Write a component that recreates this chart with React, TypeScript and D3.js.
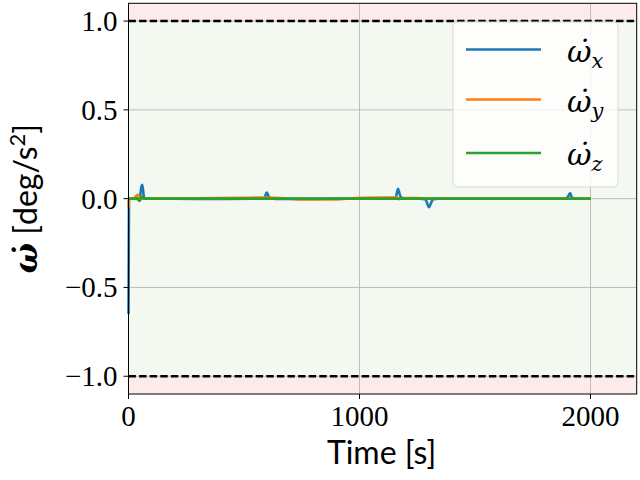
import React from "react";
import * as d3 from "d3";

const xTicks = [0, 1000, 2000];
const yTicks = [-1.0, -0.5, 0.0, 0.5, 1.0];
const xTickLabels = ["0", "1000", "2000"];
const yTickLabels = ["\u22121.0", "\u22120.5", "0.0", "0.5", "1.0"];

const blueT = [0, 2, 6, 30, 46, 52, 56, 59, 62, 66, 72, 90, 200, 400, 580, 590, 595, 599, 604, 612, 640, 800, 1000, 1150, 1158, 1163, 1167, 1171, 1178, 1190, 1260, 1285, 1294, 1301, 1308, 1318, 1340, 1600, 1890, 1902, 1908, 1912, 1917, 1925, 1940, 2000];
const blueV = [-0.65, -0.01, 0, 0, 0.003, 0.03, 0.068, 0.078, 0.06, 0.015, 0, 0, 0, -0.002, 0, 0.006, 0.028, 0.035, 0.02, 0.003, -0.002, -0.001, 0, 0, 0.01, 0.04, 0.055, 0.04, 0.01, 0.002, 0, -0.004, -0.03, -0.048, -0.03, -0.004, 0, 0, 0, 0.01, 0.025, 0.03, 0.015, 0.002, 0, 0];

const orangeT = [0, 2, 6, 25, 33, 40, 46, 52, 60, 100, 300, 500, 600, 680, 760, 900, 980, 1100, 1160, 1172, 1190, 1250, 1300, 1500, 2000];
const orangeV = [-0.05, -0.008, 0, 0.004, 0.015, 0.022, 0.012, 0.002, 0, 0, 0.002, 0.005, 0.006, 0.001, -0.005, -0.004, 0.003, 0.006, 0.007, -0.003, 0.004, 0.004, 0, 0, 0];

const greenT = [0, 30, 40, 46, 50, 54, 58, 62, 70, 600, 1200, 2000];
const greenV = [0, 0, -0.002, -0.012, -0.01, 0.006, 0.012, 0.002, 0, 0, 0, 0];

const seriesNames = ["x", "y", "z"];
const seriesColors = ["#1f77b4", "#ff7f0e", "#2ca02c"];

export default function App() {
  const W = 640, H = 480;
  const x = d3.scaleLinear().domain([0, 2200]).range([128.5, 636.7]);
  const y = d3.scaleLinear().domain([-1.1, 1.1]).range([394, 3.3]);
  const line = d3
    .line<[number, number]>()
    .x((d) => x(d[0]))
    .y((d) => y(d[1]))
    .curve(d3.curveMonotoneX);
  const series = [
    d3.zip(blueT, blueV) as [number, number][],
    d3.zip(orangeT, orangeV) as [number, number][],
    d3.zip(greenT, greenV) as [number, number][],
  ];
  const [x0, x1] = x.range();
  const [yb, yt] = y.range();
  const serif = "'Liberation Serif', 'DejaVu Serif', serif";
  const legendY = [49.5, 99.5, 153];
  return (
    <svg width={W} height={H} style={{ position: "absolute", left: 0, top: 0 }} xmlns="http://www.w3.org/2000/svg">
      <rect x={0} y={0} width={W} height={H} fill="white" />
      {/* shaded regions */}
      <rect x={x0} y={yt} width={x1 - x0} height={y(1) - yt} fill="#fdebeb" />
      <rect x={x0} y={y(-1)} width={x1 - x0} height={yb - y(-1)} fill="#fdebeb" />
      <rect x={x0} y={y(1)} width={x1 - x0} height={y(-1) - y(1)} fill="#f3f8f0" />
      {/* grid */}
      {xTicks.map((t) => (
        <line key={"gx" + t} x1={x(t)} x2={x(t)} y1={yt} y2={yb} stroke="#b0b0b0" strokeWidth={0.8} />
      ))}
      {yTicks.map((t) => (
        <line key={"gy" + t} x1={x0} x2={x1} y1={y(t)} y2={y(t)} stroke="#b0b0b0" strokeWidth={0.8} />
      ))}
      {/* limits */}
      {[1, -1].map((v) => (
        <line key={"lim" + v} x1={x0} x2={x1} y1={y(v)} y2={y(v)} stroke="black" strokeWidth={2.5} strokeDasharray="7.4 3.2" />
      ))}
      {/* data */}
      {series.map((s, i) => (
        <path key={"s" + i} d={line(s) || ""} fill="none" stroke={seriesColors[i]} strokeWidth={2.6} strokeLinejoin="round" />
      ))}
      {/* spines */}
      <rect x={x0} y={yt} width={x1 - x0} height={yb - yt} fill="none" stroke="black" strokeWidth={1} />
      {/* x ticks */}
      {xTicks.map((t, i) => (
        <g key={"xt" + t}>
          <line x1={x(t)} x2={x(t)} y1={yb} y2={yb + 5} stroke="black" strokeWidth={1} />
          <text x={x(t)} y={yb + 32} textAnchor="middle" fontFamily={serif} fontSize={29}>
            {xTickLabels[i]}
          </text>
        </g>
      ))}
      {/* y ticks */}
      {yTicks.map((t, i) => (
        <g key={"yt" + t}>
          <line x1={x0 - 5} x2={x0} y1={y(t)} y2={y(t)} stroke="black" strokeWidth={1} />
          <text x={x0 - 11} y={y(t) + 10} textAnchor="end" fontFamily={serif} fontSize={29}>
            {yTickLabels[i]}
          </text>
        </g>
      ))}
      {/* axis labels */}
      <text x={(x0 + x1) / 2 - 1} y={464} textAnchor="middle" fontFamily="Lato, 'DejaVu Sans', sans-serif" fontSize={32}>
        Time [s]
      </text>
      <g transform={`translate(37, ${(yt + yb) / 2}) rotate(-90)`}>
        <text textAnchor="middle" fontFamily="Lato, 'DejaVu Sans', sans-serif" fontSize={32}>
          <tspan fontFamily="'DejaVu Serif', serif" fontWeight="bold" fontStyle="italic">{"\u03c9\u0307"}</tspan>
          <tspan>{" [deg/s"}</tspan>
          <tspan dy={-12} fontSize={22}>2</tspan>
          <tspan dy={12}>]</tspan>
        </text>
      </g>
      {/* legend */}
      <rect x={453} y={22} width={165} height={165} rx={5} ry={5} fill="white" fillOpacity={0.8} stroke="#d8d8d8" strokeWidth={1} />
      {seriesNames.map((n, i) => (
        <g key={"lg" + n}>
          <line x1={466} x2={541} y1={legendY[i]} y2={legendY[i]} stroke={seriesColors[i]} strokeWidth={2.6} />
          <text x={567} y={legendY[i] + 12} fontFamily="'DejaVu Serif', serif" fontStyle="italic" fontSize={30}>
            {"\u03c9\u0307"}
            <tspan dy={6} fontSize={21}>{n}</tspan>
          </text>
        </g>
      ))}
    </svg>
  );
}
